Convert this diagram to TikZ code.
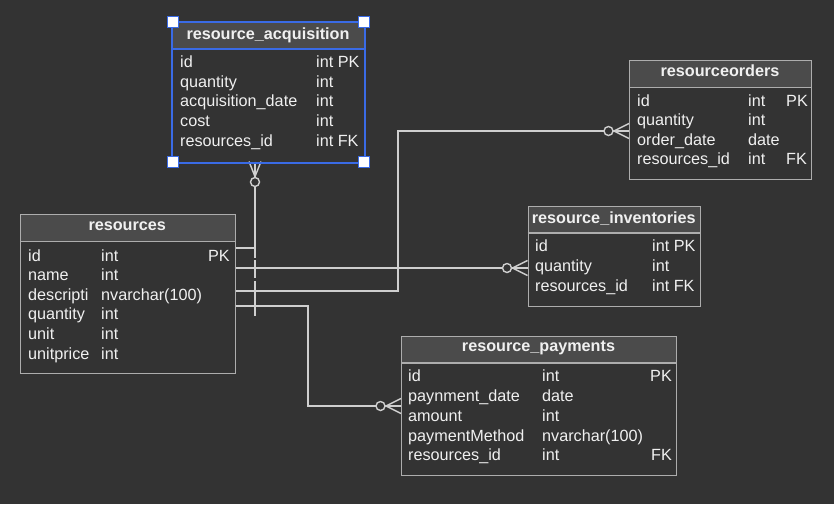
\documentclass[tikz,border=0pt]{standalone}
\usepackage{fontspec}
\setmainfont{Liberation Sans}
\usetikzlibrary{calc}
\definecolor{bgc}{HTML}{333333}
\definecolor{headc}{HTML}{4B4B4B}
\definecolor{framec}{HTML}{ADADAD}
\definecolor{connc}{HTML}{CFCFCF}
\definecolor{txtc}{HTML}{F0F0F0}
\definecolor{selc}{HTML}{3A6BE6}
\tikzset{
  tframe/.style={draw=#1, line width=1.4pt, rectangle, inner sep=0pt, fill=none},
  cell/.style={text=txtc, inner sep=0pt, font=\fontsize{16.2}{18}\selectfont},
  ttitle/.style={text=txtc, inner sep=0pt, font=\fontsize{16.2}{18}\selectfont\bfseries, anchor=base},
  conn/.style={draw=connc, line width=1.4pt},
  crowcircle/.style={draw=connc, line width=1.4pt, fill=bgc},
  handle/.style={draw=selc, fill=white, line width=0.8pt, minimum size=11pt, inner sep=0pt, rectangle}
}
% #1 name, #2 x1, #3 y1, #4 x2, #5 y2, #6 header bottom, #7 title, #8 title baseline, #9 frame colour
\newcommand\ertable[9]{%
  \fill[headc] (#2,#3) rectangle (#4,#6);
  \node[tframe=#9, anchor=north west, minimum width={#4-#2}, minimum height={#5-#3}] (#1) at (#2,#3) {};
  \draw[#9, line width=1.4pt] (#2,#6) -- (#4,#6);
  \node[ttitle] (#1-title) at ({(#2+#4)/2},#8) {#7};
}
\newcommand\ercell[4]{\node[cell, anchor=base west] (#1) at (#2,#3) {#4};}
\newcommand\ercellr[4]{\node[cell, anchor=base east] (#1) at (#2,#3) {#4};}
\begin{document}
\begin{tikzpicture}[x=1pt,y=-1pt]
\fill[bgc] (0,0) rectangle (834,504);
\useasboundingbox (0,0) rectangle (834,504);

% ---------- connectors ----------
\coordinate (acqB) at (255,161.5);
\coordinate (resA) at (234.5,248);
\coordinate (resI) at (234.5,268);
\coordinate (resO) at (234.5,291);
\coordinate (resP) at (234.5,306);
\coordinate (ordL) at (629,131);
\coordinate (invL) at (527.5,268);
\coordinate (payL) at (401,406);
\coordinate (bendO) at (398,291);
\coordinate (bendP) at (308,306);

\draw[conn] (acqB) |- (resA);
\draw[conn] (resI) -- (invL);
\draw[conn] (resO) -- (bendO) |- (ordL);
\draw[conn] (resP) -- (bendP) |- (payL);

% one-markers near resources
\draw[conn] (255,248) -- (255,258);
\draw[conn] (255,260) -- (255,278);
\draw[conn] (255,281) -- (255,301);
\draw[conn] (255,296) -- (255,316);

% zero-or-many markers
\draw[conn] ($(acqB)+(-6,0)$) -- ($(acqB)+(0,15)$) -- ($(acqB)+(6,0)$);
\draw[crowcircle] ($(acqB)+(0,20.5)$) circle (4.5);

\draw[conn] ($(ordL)+(0,-7.5)$) -- ($(ordL)+(-15,0)$) -- ($(ordL)+(0,7.5)$);
\draw[crowcircle] ($(ordL)+(-20.5,0)$) circle (4.5);

\draw[conn] ($(invL)+(0,-7.5)$) -- ($(invL)+(-15,0)$) -- ($(invL)+(0,7.5)$);
\draw[crowcircle] ($(invL)+(-20.5,0)$) circle (4.5);

\draw[conn] ($(payL)+(0,-7.5)$) -- ($(payL)+(-15,0)$) -- ($(payL)+(0,7.5)$);
\draw[crowcircle] ($(payL)+(-20.5,0)$) circle (4.5);

% ---------- resource_acquisition ----------
\ertable{acq}{172}{21.5}{364}{161.5}{49}{resource\_acquisition}{39.3}{selc}
\draw[selc, line width=2pt] (acq.north west) rectangle (acq.south east);
\draw[selc, line width=2pt] (172,49) -- (364,49);
\ercell{acq-n1}{180}{67.3}{id}            \ercell{acq-t1}{316}{67.3}{int PK}
\ercell{acq-n2}{180}{87}{quantity}        \ercell{acq-t2}{316}{87}{int}
\ercell{acq-n3}{180}{106.7}{acquisition\_date} \ercell{acq-t3}{316}{106.7}{int}
\ercell{acq-n4}{180}{126.4}{cost}         \ercell{acq-t4}{316}{126.4}{int}
\ercell{acq-n5}{180}{146}{resources\_id}  \ercell{acq-t5}{316}{146}{int FK}
\node[handle] (h1) at (172.5,21.5) {};
\node[handle] (h2) at (364,21.5) {};
\node[handle] (h3) at (172.5,161.5) {};
\node[handle] (h4) at (364,161.5) {};

% ---------- resourceorders ----------
\ertable{ord}{629}{60}{811}{179}{87.5}{resourceorders}{76.7}{framec}
\ercell{ord-n1}{637}{106.5}{id}           \ercell{ord-t1}{748}{106.5}{int} \ercell{ord-k1}{786}{106.5}{PK}
\ercell{ord-n2}{637}{125.7}{quantity}     \ercell{ord-t2}{748}{125.7}{int}
\ercell{ord-n3}{637}{145}{order\_date}    \ercell{ord-t3}{748}{145}{date}
\ercell{ord-n4}{637}{164.2}{resources\_id} \ercell{ord-t4}{748}{164.2}{int} \ercell{ord-k4}{786}{164.2}{FK}

% ---------- resources ----------
\ertable{res}{20}{214}{234.5}{372.5}{241.5}{resources}{230.8}{framec}
\ercell{res-n1}{28}{261}{id}          \ercell{res-t1}{101}{261}{int} \ercellr{res-k1}{230}{261}{PK}
\ercell{res-n2}{28}{280.6}{name}      \ercell{res-t2}{101}{280.6}{int}
\ercell{res-n3}{28}{300.2}{descripti} \ercell{res-t3}{101}{300.2}{nvarchar(100)}
\ercell{res-n4}{28}{319.8}{quantity}  \ercell{res-t4}{101}{319.8}{int}
\ercell{res-n5}{28}{339.4}{unit}      \ercell{res-t5}{101}{339.4}{int}
\ercell{res-n6}{28}{359}{unitprice}   \ercell{res-t6}{101}{359}{int}

% ---------- resource_inventories ----------
\ertable{inv}{527.5}{206}{700}{305.5}{233}{resource\_inventories}{223.3}{framec}
\ercell{inv-n1}{535}{251.6}{id}           \ercell{inv-t1}{652}{251.6}{int PK}
\ercell{inv-n2}{535}{271.3}{quantity}     \ercell{inv-t2}{652}{271.3}{int}
\ercell{inv-n3}{535}{291}{resources\_id}  \ercell{inv-t3}{652}{291}{int FK}

% ---------- resource_payments ----------
\ertable{pay}{401}{336}{676}{475}{363}{resource\_payments}{351.7}{framec}
\ercell{pay-n1}{408}{381.7}{id}             \ercell{pay-t1}{542}{381.7}{int} \ercellr{pay-k1}{672}{381.7}{PK}
\ercell{pay-n2}{408}{401.4}{paynment\_date} \ercell{pay-t2}{542}{401.4}{date}
\ercell{pay-n3}{408}{421.2}{amount}         \ercell{pay-t3}{542}{421.2}{int}
\ercell{pay-n4}{408}{441}{paymentMethod}    \ercell{pay-t4}{542}{441}{nvarchar(100)}
\ercell{pay-n5}{408}{460.7}{resources\_id}  \ercell{pay-t5}{542}{460.7}{int} \ercellr{pay-k5}{672}{460.7}{FK}
\end{tikzpicture}
\end{document}
